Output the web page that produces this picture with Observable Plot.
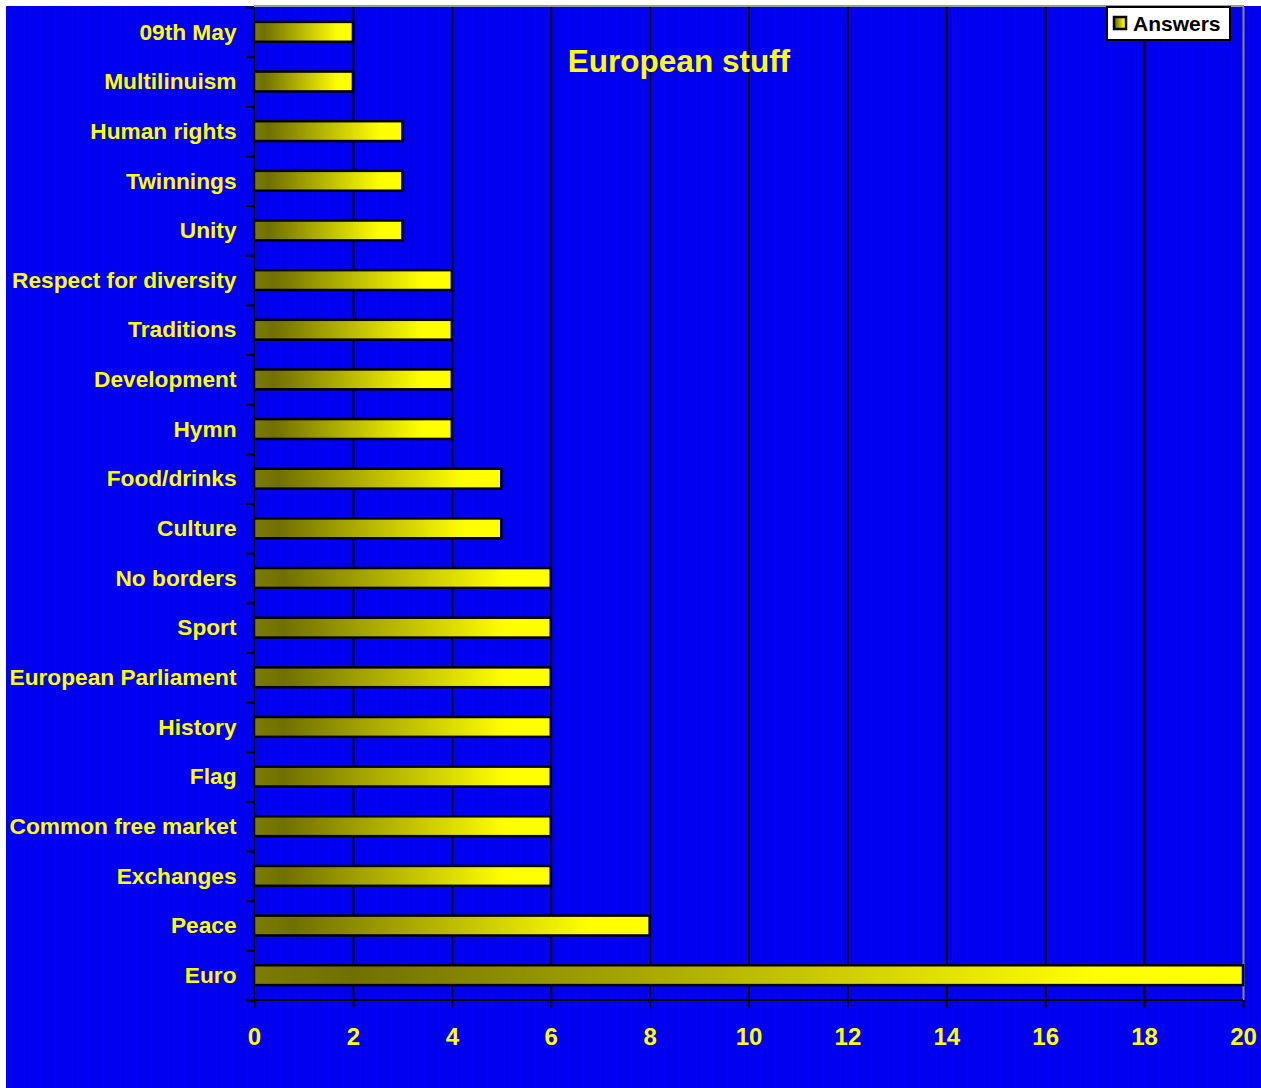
<!DOCTYPE html>
<html>
<head>
<meta charset="utf-8">
<script src="https://cdn.jsdelivr.net/npm/d3@7"></script>
<script src="https://cdn.jsdelivr.net/npm/@observablehq/plot@0.6"></script>
<style>
  html, body { margin: 0; padding: 0; background: #ffffff; }
  #wrap { position: relative; width: 1261px; height: 1088px; overflow: hidden; }
  #bg { position: absolute; left: 6px; top: 6px; width: 1255px; height: 1082px;
        background: repeating-linear-gradient(90deg, #0000f6 0px, #0000f6 2px, #0000e0 2px, #0000e0 3px); }
  #chart { position: absolute; left: 0; top: 0; }
  #chart svg { background: transparent; }
</style>
</head>
<body>
<div id="wrap"><div id="bg"></div><div id="chart"></div></div>
<script>
const categories = ["09th May", "Multilinuism", "Human rights", "Twinnings", "Unity",
  "Respect for diversity", "Traditions", "Development", "Hymn", "Food/drinks", "Culture",
  "No borders", "Sport", "European Parliament", "History", "Flag", "Common free market",
  "Exchanges", "Peace", "Euro"];
const answers = [2, 2, 3, 3, 3, 4, 4, 4, 4, 5, 5, 6, 6, 6, 6, 6, 6, 6, 8, 20];
const xTicks = [0, 2, 4, 6, 8, 10, 12, 14, 16, 18, 20];
const gridValues = [2, 4, 6, 8, 10, 12, 14, 16, 18];
const seriesName = "Answers";
const chartTitle = "European stuff";

const data = categories.map((c, i) => ({category: c, value: answers[i]}));

const W = 1261, H = 1088;
const mL = 254, mR = 18, mT = 7, mB = 88;
const step = (H - mT - mB) / categories.length;
const FONT = "Liberation Sans, Arial, sans-serif";

const gradDefs = () => {
  const ns = "http://www.w3.org/2000/svg";
  const defs = document.createElementNS(ns, "defs");
  defs.innerHTML = `<linearGradient id="barGrad" x1="0" x2="1" y1="0" y2="0">
    <stop offset="0" stop-color="#7c7c00"/>
    <stop offset="0.1" stop-color="#707000"/>
    <stop offset="0.85" stop-color="#ffff00"/>
    <stop offset="1" stop-color="#ffff00"/>
  </linearGradient>`;
  return defs;
};

const lastCategory = [categories[categories.length - 1]];

const plot = Plot.plot({
  width: W,
  height: H,
  marginLeft: mL,
  marginRight: mR,
  marginTop: mT,
  marginBottom: mB,
  style: {background: "transparent", fontFamily: FONT},
  x: {domain: [0, 20], ticks: xTicks, axis: null, label: null},
  y: {domain: categories, paddingInner: 0.6, paddingOuter: 0.3, round: false, axis: null, label: null},
  marks: [
    gradDefs,
    // grey border right
    Plot.ruleX([20], {stroke: "#8c8c8c", strokeWidth: 2}),
    // gridlines
    Plot.ruleX(gridValues, {stroke: "#000000", strokeWidth: 2}),
    // bars
    Plot.barX(data, {y: "category", x: "value", fill: "url(#barGrad)", stroke: "#000000", strokeWidth: 2.5}),
    // y boundary ticks
    Plot.ruleY(categories, {y: d => d, dy: -step / 2, x1: -0.16, x2: 0, stroke: "#000000", strokeWidth: 2}),
    Plot.ruleY(lastCategory, {y: d => d, dy: step / 2, x1: -0.16, x2: 0, stroke: "#000000", strokeWidth: 2}),
    // x axis ticks and labels
    Plot.axisX({ticks: xTicks, tickSize: 8, tickPadding: 19, tickFormat: d => String(d), label: null,
      stroke: "#000000", strokeWidth: 2, fill: "#ffff00", fontSize: 24, fontWeight: "bold"}),
    // y labels
    Plot.axisY({tickSize: 0, tickPadding: 18, label: null, fill: "#ffff00", fontSize: 22.7, fontWeight: "bold"})
  ]
});

document.getElementById("chart").appendChild(plot);

const svg = d3.select(plot);
const xs = (v) => mL + (W - mL - mR) * v / 20;
// top grey border
svg.append("line").attr("x1", mL).attr("x2", xs(20) + 1).attr("y1", mT - 1).attr("y2", mT - 1)
  .attr("stroke", "#9a9a9a").attr("stroke-width", 2);
// x axis baseline
svg.append("line").attr("x1", mL - 8).attr("x2", xs(20)).attr("y1", H - mB).attr("y2", H - mB)
  .attr("stroke", "#000000").attr("stroke-width", 2);
// y axis line
svg.append("line").attr("x1", mL).attr("x2", mL).attr("y1", mT).attr("y2", H - mB + 8)
  .attr("stroke", "#000000").attr("stroke-width", 2);

// title
svg.append("text").attr("x", 679).attr("y", 72).attr("text-anchor", "middle")
  .attr("fill", "#ffff00").attr("font-size", 31.5).attr("font-weight", "bold")
  .attr("font-family", FONT).text(chartTitle);

// legend
const lg = svg.append("g");
lg.append("rect").attr("x", 1107).attr("y", 7).attr("width", 123).attr("height", 33)
  .attr("fill", "#ffffff").attr("stroke", "#000000").attr("stroke-width", 2);
lg.append("rect").attr("x", 1114).attr("y", 17).attr("width", 12).attr("height", 12)
  .attr("fill", "url(#barGrad)").attr("stroke", "#000000").attr("stroke-width", 2.5);
lg.append("text").attr("x", 1133).attr("y", 31).attr("fill", "#000000").attr("text-anchor", "start")
  .attr("font-size", 21).attr("font-weight", "bold")
  .attr("font-family", FONT).text(seriesName);
</script>
</body>
</html>
